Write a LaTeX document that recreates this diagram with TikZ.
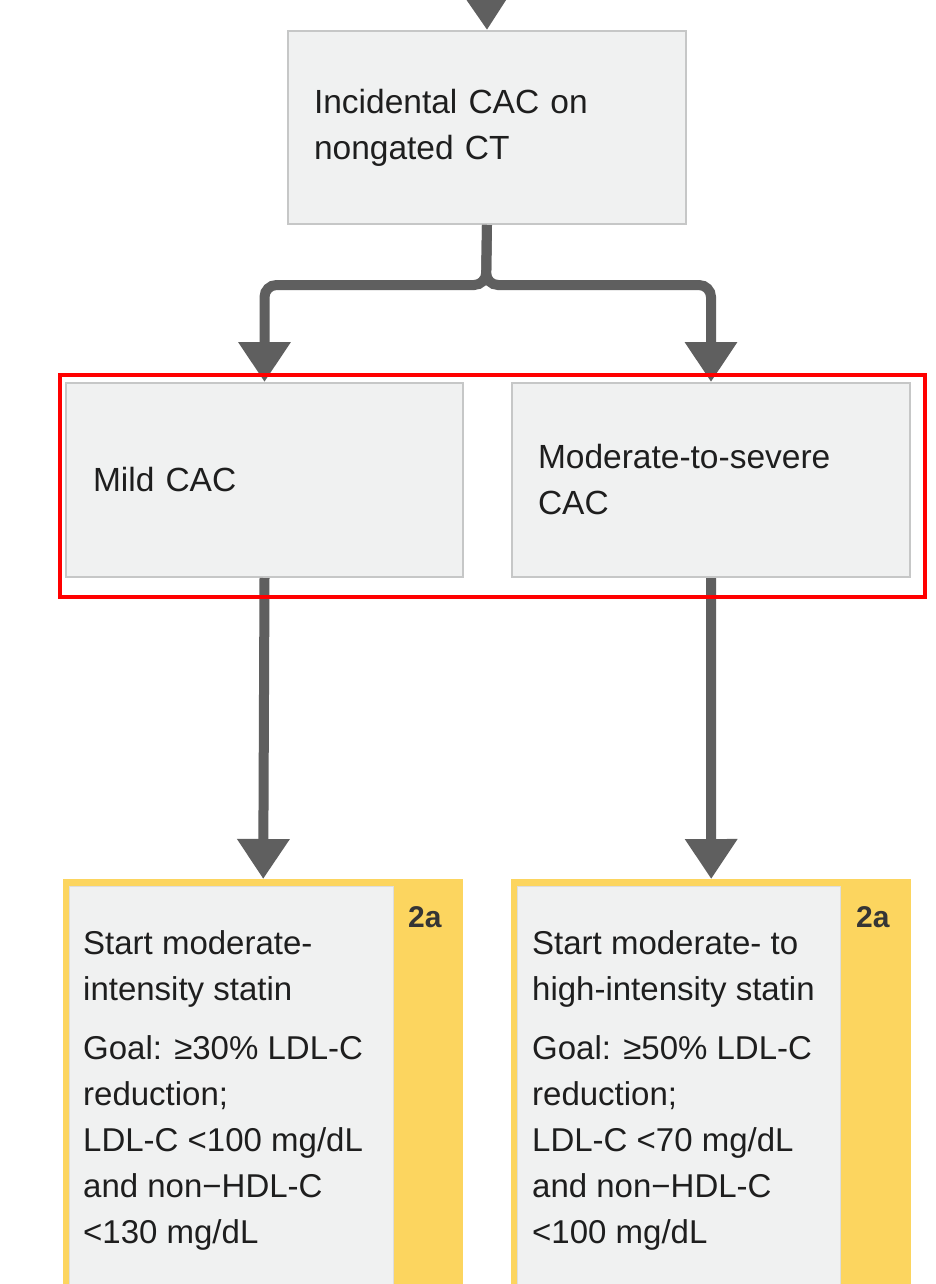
\documentclass[tikz,border=0pt]{standalone}
\usepackage{fontspec}
\setmainfont{Liberation Sans}
\usetikzlibrary{arrows.meta}

\definecolor{boxfill}{HTML}{F0F1F1}
\definecolor{boxline}{HTML}{C6C7C7}
\definecolor{flow}{HTML}{5F5F5F}
\definecolor{classyellow}{HTML}{FCD55F}
\definecolor{ink}{HTML}{1E1E1E}

\tikzset{
  box/.style={draw=boxline, line width=2pt, fill=boxfill, anchor=north west,
    align=left, inner ysep=0pt, font=\fontsize{33.5}{46}\selectfont, text=ink},
  flowline/.style={draw=flow, line width=10pt, rounded corners=12pt,
    -{Triangle[length=40pt,width=50pt]}},
  classcol/.style={fill=classyellow, draw=none, anchor=north west},
  recbox/.style={fill=boxfill, draw=boxline!60, line width=0.6pt, anchor=north west},
  rectext/.style={anchor=north west, align=left, inner sep=0pt, text=ink,
    font=\fontsize{33}{46}\selectfont},
  classtext/.style={anchor=north west, inner sep=0pt, text=ink!90,
    font=\fontsize{30}{30}\selectfont\bfseries},
  highlight/.style={draw=red, line width=4pt}
}

\begin{document}
\begin{tikzpicture}[x=1pt, y=-1pt]
  \useasboundingbox (0,0) rectangle (935,1284);
  \clip (0,0) rectangle (935,1284);
  \fill[white] (0,0) rectangle (935,1284);

  % entry box
  \coordinate (entry) at (486,-30);
  \node[box, minimum width=398pt, minimum height=193pt, text width=346pt,
        inner xsep=26pt] (top) at (287,30) {Incidental CAC on\\nongated CT};

  % CAC severity boxes
  \node[box, minimum width=397pt, minimum height=194pt, text width=343pt,
        inner xsep=27pt] (mild) at (65,382) {Mild CAC};
  \node[box, minimum width=398pt, minimum height=194pt, text width=346pt,
        inner xsep=26pt] (mod) at (511,382) {Moderate-to-severe\\CAC};

  % recommendation boxes with class-of-recommendation column
  \node[classcol, minimum width=400pt, minimum height=430pt] (recL) at (63,879) {};
  \node[recbox, minimum width=324pt, minimum height=420pt] (recLin) at (69,886) {};
  \node[classtext] (corL) at (408,906) {2a};
  \node[rectext] (txtL) at (83,930) {Start moderate-\\intensity statin\\[13pt]
    Goal: ≥30\% LDL-C\\reduction;\\
    LDL-C <100 mg/dL\\and non{\textminus}HDL-C\\<130 mg/dL};

  \node[classcol, minimum width=400pt, minimum height=430pt] (recR) at (511,879) {};
  \node[recbox, minimum width=323pt, minimum height=420pt] (recRin) at (517,886) {};
  \node[classtext] (corR) at (856,906) {2a};
  \node[rectext] (txtR) at (532,930) {Start moderate- to\\high-intensity statin\\[13pt]
    Goal: ≥50\% LDL-C\\reduction;\\
    LDL-C <70 mg/dL\\and non{\textminus}HDL-C\\<100 mg/dL};

  % connectors
  \coordinate (split) at (486,285);
  \draw[flowline] (entry) -- (top.north);
  \draw[flowline] (top.south) -- (split) -| (mild.north);
  \draw[flowline] (top.south) -- (split) -| (mod.north);
  \draw[flowline] (mild.south) -- (recL.north);
  \draw[flowline] (mod.south) -- (recR.north);

  % highlight frame
  \draw[highlight] (60,375) rectangle (925,597);
\end{tikzpicture}
\end{document}
